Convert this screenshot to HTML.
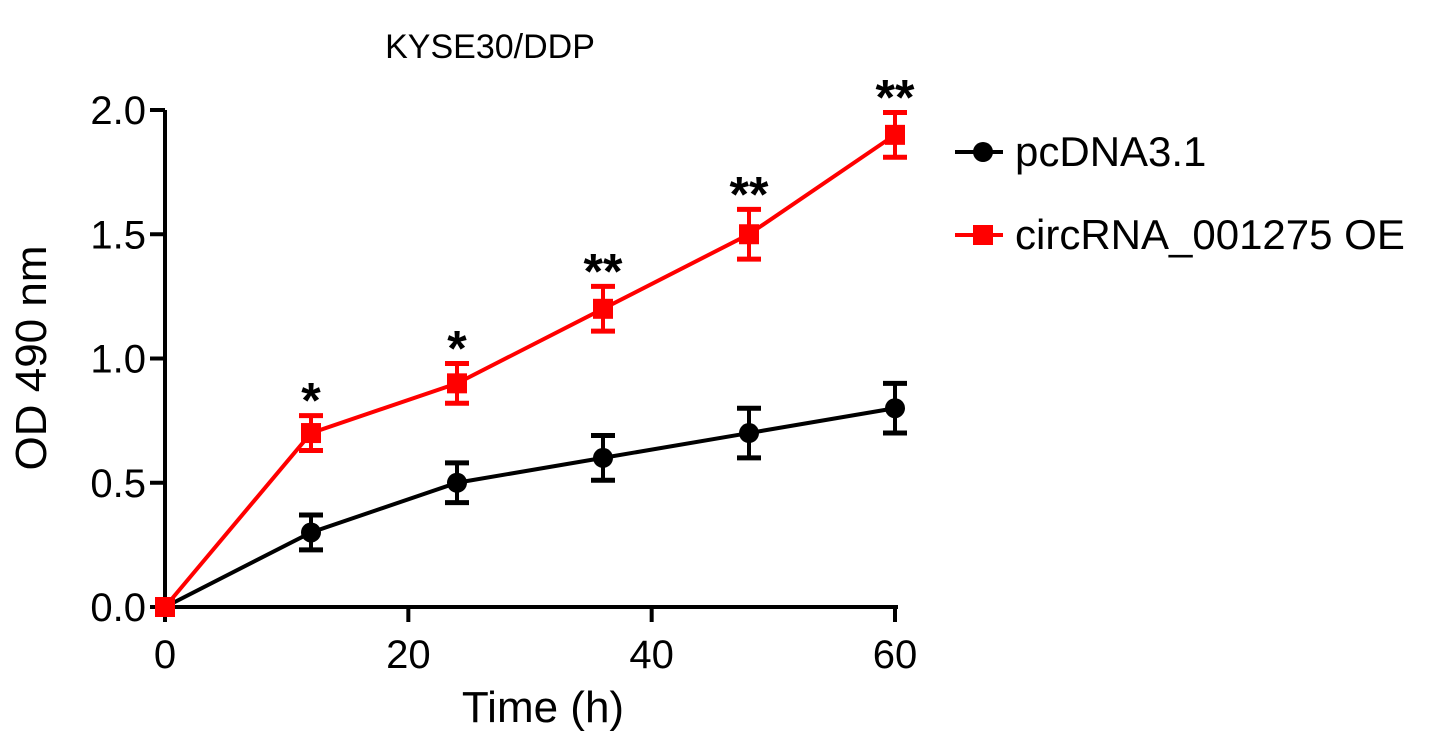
<!DOCTYPE html>
<html><head><meta charset="utf-8"><style>
body{margin:0;background:#fff;}
svg text{font-family:"Liberation Sans",Arial,sans-serif;}
</style></head><body>
<svg width="1441" height="744" viewBox="0 0 1441 744">
<g id="plot"></g>
<text x="490" y="58" font-size="34" text-anchor="middle">KYSE30/DDP</text>
<text x="0" y="0" font-size="44" text-anchor="middle" transform="translate(46,358) rotate(-90)">OD 490 nm</text>
<text x="543" y="722" font-size="44" text-anchor="middle">Time (h)</text>
<g>
<g>
<line x1="955" y1="152" x2="1003" y2="152" stroke="#000" stroke-width="4"/>
<circle cx="983" cy="152" r="10" fill="#000"/>
<text x="1015" y="166" font-size="42">pcDNA3.1</text>
</g>
<g>
<line x1="955" y1="235" x2="1003" y2="235" stroke="#f00" stroke-width="4"/>
<rect x="973" y="225" width="20" height="20" fill="#f00"/>
<text x="1015" y="249" font-size="42">circRNA_001275 OE</text>
</g>
</g>
</svg>
<script>
const times=[0,12,24,36,48,60];
const ctrlVals=[0,0.3,0.5,0.6,0.7,0.8];
const ctrlErr=[0,0.07,0.08,0.09,0.1,0.1];
const oeVals=[0,0.7,0.9,1.2,1.5,1.9];
const oeErr=[0,0.07,0.08,0.09,0.1,0.09];
const sigLabels=["","*","*","**","**","**"];
const xTicks=[0,20,40,60];
const yTicks=[0,0.5,1.0,1.5,2.0];
const yTickLabels=["0.0","0.5","1.0","1.5","2.0"];

const NS="http://www.w3.org/2000/svg";
const g=document.getElementById('plot');
const X=v=>165+v*(730/60);
const Y=v=>607-v*248.5;
function mk(t,a,p){const e=document.createElementNS(NS,t);for(const k in a)e.setAttribute(k,a[k]);(p||g).appendChild(e);return e;}
let ax=mk('line',{x1:165,y1:Y(2.0),x2:165,y2:607,stroke:'#000','stroke-width':4});


ax=mk('line',{x1:163,y1:607,x2:X(60)+3,y2:607,stroke:'#000','stroke-width':4});


yTicks.forEach((v,i)=>{
  mk('line',{x1:150,y1:Y(v),x2:165,y2:Y(v),stroke:'#000','stroke-width':4});
  const t=mk('text',{x:146,y:Y(v)+14,'font-size':40,'text-anchor':'end'});t.textContent=yTickLabels[i];
  
  
});
xTicks.forEach(v=>{
  mk('line',{x1:X(v),y1:607,x2:X(v),y2:622,stroke:'#000','stroke-width':4});
  const t=mk('text',{x:X(v),y:668,'font-size':40,'text-anchor':'middle'});t.textContent=v;
  
  
});
function series(vals,err,color,shape,name){
  const sg=mk('g',{});
  
  
  mk('polyline',{points:times.map((t,i)=>X(t)+','+Y(vals[i])).join(' '),fill:'none',stroke:color,'stroke-width':4},sg);
  times.forEach((t,i)=>{
    const x=X(t);
    if(err[i]>0){
      mk('line',{x1:x,y1:Y(vals[i]+err[i]),x2:x,y2:Y(vals[i]-err[i]),stroke:color,'stroke-width':4},sg);
      mk('line',{x1:x-12,y1:Y(vals[i]+err[i]),x2:x+12,y2:Y(vals[i]+err[i]),stroke:color,'stroke-width':5},sg);
      mk('line',{x1:x-12,y1:Y(vals[i]-err[i]),x2:x+12,y2:Y(vals[i]-err[i]),stroke:color,'stroke-width':5},sg);
    }
    let m;
    if(shape==='c') m=mk('circle',{cx:x,cy:Y(vals[i]),r:10,fill:color},sg);
    else m=mk('rect',{x:x-10,y:Y(vals[i])-10,width:20,height:20,fill:color},sg);
    
    
  });
}
series(ctrlVals,ctrlErr,'#000','c','series-pcdna');
series(oeVals,oeErr,'#f00','s','series-circrna');
times.forEach((t,i)=>{
  if(!sigLabels[i])return;
  const s=mk('text',{x:X(t),y:Y(oeVals[i]+oeErr[i])+2,'font-size':50,'font-weight':'bold','text-anchor':'middle'});
  s.textContent=sigLabels[i];
  
  
});
</script>
</body></html>
